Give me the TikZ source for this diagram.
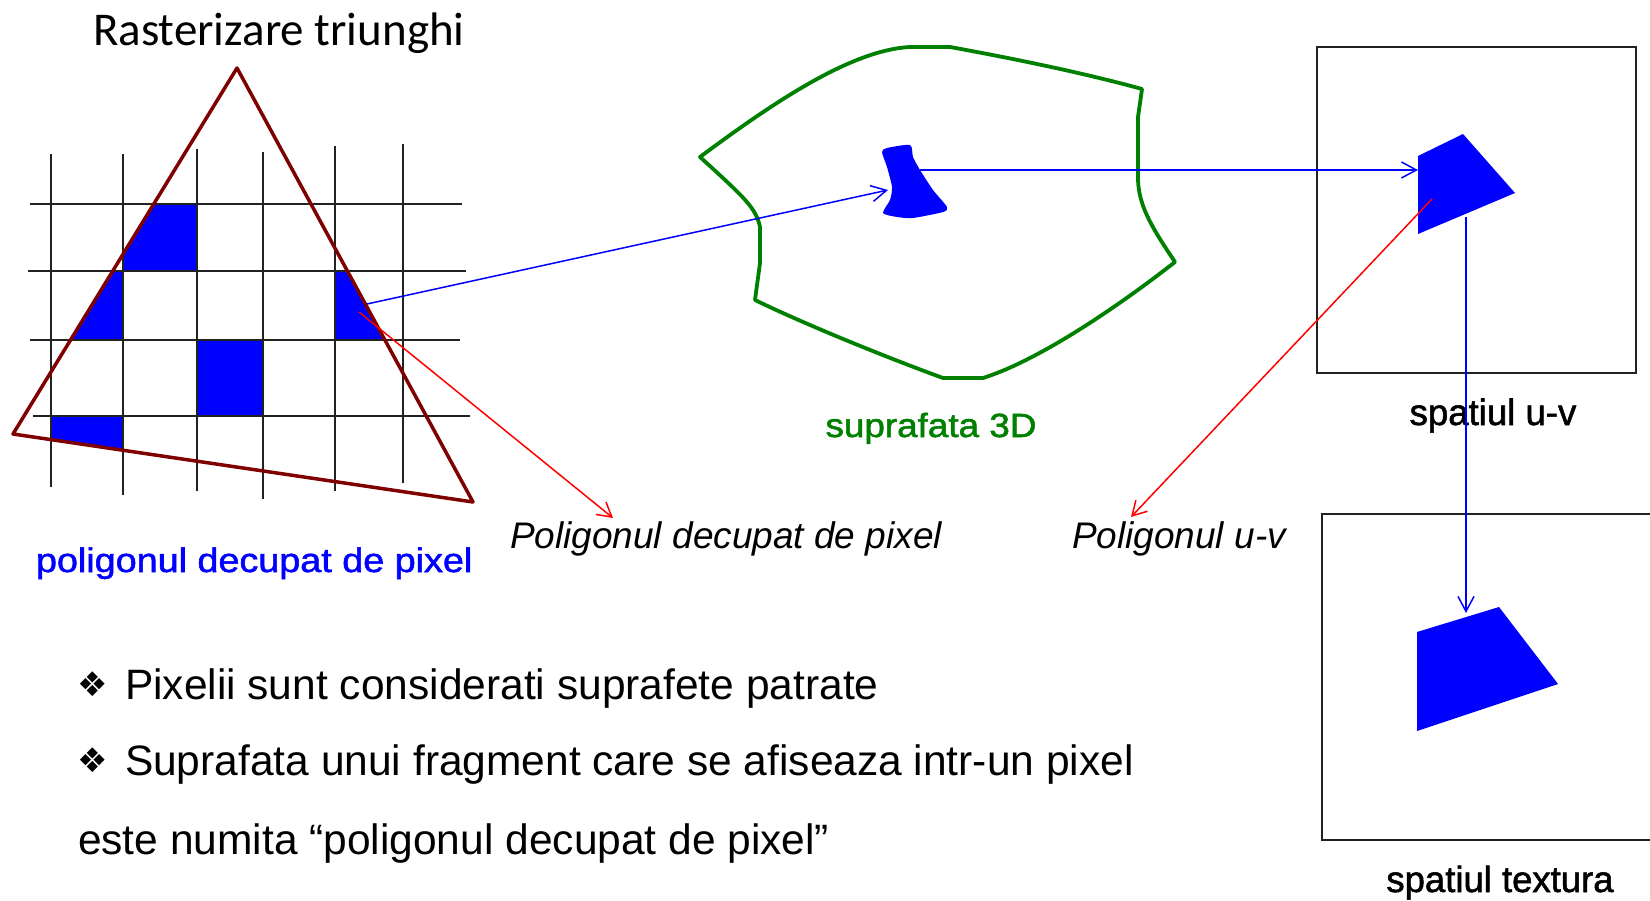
\documentclass[tikz,border=0pt]{standalone}
\usepackage{fontspec}
\usepackage{graphicx}
\setmainfont{Liberation Sans}
\newfontfamily\calibri{Carlito}
\newfontfamily\dejavu{DejaVu Sans}
\newfontfamily\medfont[FakeBold=1.5]{Liberation Sans}
\usetikzlibrary{arrows.meta}
\definecolor{pblue}{RGB}{0,0,255}
\definecolor{tri}{RGB}{128,0,0}
\definecolor{surf}{RGB}{0,128,0}
\definecolor{gridc}{RGB}{34,34,34}
\begin{document}
\begin{tikzpicture}[x=1pt,y=-1pt,
  gridline/.style={gridc,line width=2pt},
  triline/.style={tri,line width=3.5pt,line join=round},
  surfline/.style={surf,line width=3.8pt,line join=round},
  blueconn/.style={pblue,line width=1.5pt,-{Straight Barb[length=15pt,width=16pt]}},
  redconn/.style={red,line width=1.5pt,-{Straight Barb[length=14pt,width=16pt]}},
  boxframe/.style={gridc,line width=2pt},
  lbl/.style={inner sep=0pt,outer sep=0pt},
  bulletmark/.style={inner sep=0pt,outer sep=0pt,font=\dejavu\fontsize{34}{40}\selectfont}
]
\useasboundingbox (0,0) rectangle (1650,901);
\fill[white] (0,0) rectangle (1650,901);

% ---------- triangle and pixel grid ----------
\coordinate (apex) at (237,68);
\coordinate (bl) at (13,434);
\coordinate (br) at (473,502);
\begin{scope}
  \clip (apex) -- (bl) -- (br) -- cycle;
  \fill[pblue] (123,204) rectangle (197,271);
  \fill[pblue] (51,271) rectangle (123,340);
  \fill[pblue] (335,271) rectangle (403,340);
  \fill[pblue] (197,340) rectangle (263,416);
  \fill[pblue] (51,416) rectangle (123,470);
\end{scope}
\draw[gridline] (51,154) -- (51,487);
\draw[gridline] (123,154) -- (123,495);
\draw[gridline] (197,149) -- (197,491);
\draw[gridline] (263,152) -- (263,499);
\draw[gridline] (335,146) -- (335,491);
\draw[gridline] (403,144) -- (403,483);
\draw[gridline] (30,204) -- (462,204);
\draw[gridline] (28,271) -- (466,271);
\draw[gridline] (30,340) -- (460,340);
\draw[gridline] (33,416) -- (470,416);
\draw[triline] (apex) -- (bl) -- (br) -- cycle;

\node[lbl,anchor=base west] (title) at (93,46) {\calibri\fontsize{47}{56}\selectfont Rasterizare triunghi};
\node[lbl,anchor=base west,text=pblue] (pixlabel) at (36,572) {\scalebox{1.11}[1]{\medfont\fontsize{34}{41}\selectfont poligonul decupat de pixel}};

% ---------- 3D surface ----------
\draw[surfline] (700,157) .. controls (770,105) and (850,50) .. (910,47) -- (950,47)
  .. controls (1010,58) and (1080,72) .. (1142,89) -- (1138,117) -- (1138,180)
  .. controls (1139,205) and (1150,225) .. (1175,262)
  .. controls (1120,305) and (1040,360) .. (983,378) -- (943,378)
  .. controls (880,355) and (800,322) .. (755,300) -- (760,263) -- (760,227)
  .. controls (756,208) and (745,198) .. (700,157) -- cycle;
\fill[pblue] plot[smooth cycle, tension=0.4] coordinates {(882,152) (887,148) (910,145) (913,157) (920,170) (933,190) (947,207) (943,212) (913,218) (897,217) (883,213) (890,200) (892,187) (887,167)};
\node[lbl,anchor=base,text=surf] (surflabel) at (931,437) {\scalebox{1.1}[1]{\medfont\fontsize{33.5}{40}\selectfont suprafata 3D}};

% ---------- u-v space ----------
\draw[boxframe] (1317,47) rectangle (1636,373);
\fill[pblue] (1418,156) -- (1463,134) -- (1515,193) -- (1418,234) -- cycle;
\node[lbl,anchor=base] (uvlabel) at (1493,425) {\medfont\fontsize{36.6}{44}\selectfont spatiul u-v};

% ---------- texture space ----------
\draw[boxframe] (1650,514) -- (1322,514) -- (1322,840) -- (1650,840);
\fill[pblue] (1417,632) -- (1499,607) -- (1558,684) -- (1417,731) -- cycle;
\node[lbl,anchor=base] (texlabel) at (1500,892) {\medfont\fontsize{36.5}{44}\selectfont spatiul textura};

% ---------- connectors ----------
\coordinate (pixcell) at (367,304);
\coordinate (blobL) at (888,190);
\coordinate (blobR) at (920,170);
\coordinate (uvL) at (1418,170);
\coordinate (uvB) at (1466,217);
\coordinate (texT) at (1466,613);
\draw[blueconn] (pixcell) -- (blobL);
\draw[blueconn] (blobR) -- (uvL);
\draw[blueconn] (uvB) -- (texT);

\node[lbl,anchor=base west] (cliplabel) at (510,548) {\fontsize{37}{44}\selectfont\itshape Poligonul decupat de pixel};
\node[lbl,anchor=base west] (uvpolylabel) at (1072,548) {\fontsize{37}{44}\selectfont\itshape Poligonul u-v};
\coordinate (pixin) at (359,312);
\coordinate (cliptip) at (613,518);
\coordinate (uvin) at (1432,199);
\coordinate (uvtip) at (1131,517);
\draw[redconn] (pixin) -- (cliptip);
\draw[redconn] (uvin) -- (uvtip);

% ---------- bullet text ----------
\node[bulletmark] (b1) at (93,684) {❖};
\node[lbl,anchor=base west] (line1) at (125,699) {\fontsize{42.5}{50}\selectfont Pixelii sunt considerati suprafete patrate};
\node[bulletmark] (b2) at (93,760) {❖};
\node[lbl,anchor=base west] (line2) at (125,775) {\fontsize{42.5}{50}\selectfont Suprafata unui fragment care se afiseaza intr-un pixel};
\node[lbl,anchor=base west] (line3) at (78,854) {\fontsize{42.5}{50}\selectfont este numita “poligonul decupat de pixel”};
\end{tikzpicture}
\end{document}
